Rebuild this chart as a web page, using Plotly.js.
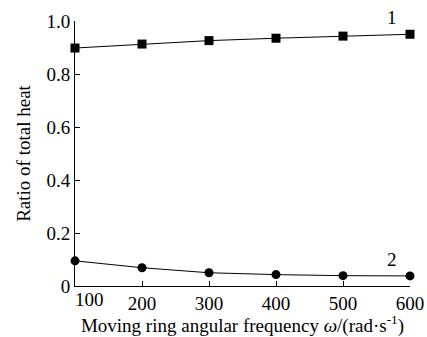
<!DOCTYPE html>
<html><head><meta charset="utf-8">
<script src="https://cdn.plot.ly/plotly-3.0.1.min.js"></script>
<style>html,body{margin:0;padding:0;background:#fff}</style>
</head><body><div id="chart" style="width:427px;height:337px"></div>
<script>
const omega = [100, 200, 300, 400, 500, 600];
const series1 = [0.898, 0.913, 0.926, 0.935, 0.943, 0.950];
const series2 = [0.095, 0.069, 0.050, 0.043, 0.039, 0.038];
const xTicks = [100, 200, 300, 400, 500, 600];
const xTickText = ['100', '200', '300', '400', '500', '600'];
const yTicks = [0, 0.2, 0.4, 0.6, 0.8, 1.0];
const yTickText = ['0', '0.2', '0.4', '0.6', '0.8', '1.0'];
const seriesLabels = ['1', '2'];

const font = {family: 'Liberation Serif, Times New Roman, serif', size: 19, color: '#000'};
const traces = [
  {x: omega, y: series1, mode: 'lines+markers', cliponaxis: false,
   line: {color: '#000', width: 1}, marker: {symbol: 'square', size: 9, color: '#000'}},
  {x: omega, y: series2, mode: 'lines+markers', cliponaxis: false,
   line: {color: '#000', width: 1}, marker: {symbol: 'circle', size: 9, color: '#000'}}
];
const layout = {
  width: 427, height: 337,
  margin: {l: 75, r: 17, t: 21, b: 51},
  showlegend: false,
  paper_bgcolor: '#fff', plot_bgcolor: '#fff',
  font: font,
  xaxis: {range: [100, 600], tickvals: xTicks.slice(1), ticktext: xTickText.slice(1),
    ticks: 'inside', ticklen: 5, tickcolor: '#000', showline: true, linecolor: '#000', linewidth: 1,
    showgrid: false, zeroline: false, tickfont: font,
    title: {text: 'Moving ring angular frequency <i>ω</i>/(rad·s<sup>-1</sup>)', font: font, standoff: 2}},
  yaxis: {range: [0, 1.0], tickvals: yTicks, ticktext: yTickText,
    ticks: 'inside', ticklen: 5, tickcolor: '#000', showline: true, linecolor: '#000', linewidth: 1,
    showgrid: false, zeroline: false, tickfont: font,
    title: {text: 'Ratio of total heat', font: font, standoff: 10}},
  annotations: [
    {x: xTicks[0], y: 0, xref: 'x', yref: 'paper', text: xTickText[0], showarrow: false, font: font,
     xanchor: 'left', yanchor: 'top', xshift: -2, yshift: -1},
    {x: 573, y: series1[5], xref: 'x', yref: 'y', text: seriesLabels[0], showarrow: false, font: font, yshift: 17},
    {x: 573, y: series2[5], xref: 'x', yref: 'y', text: seriesLabels[1], showarrow: false, font: font, yshift: 16}
  ]
};
Plotly.newPlot('chart', traces, layout, {displayModeBar: false, staticPlot: true});
</script></body></html>
